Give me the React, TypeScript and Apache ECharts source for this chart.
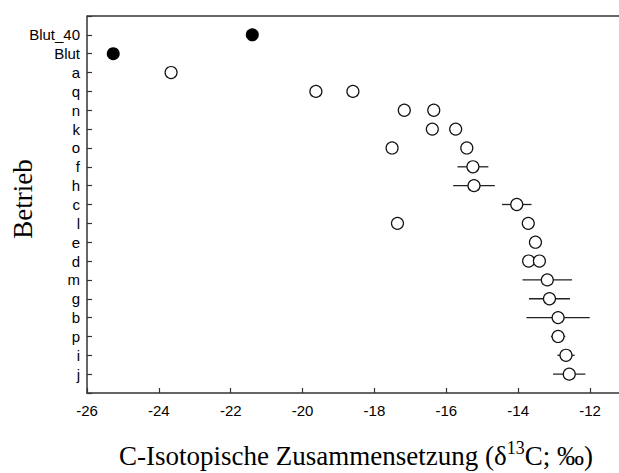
import React, { useEffect, useRef } from "react";
import * as echarts from "echarts";

// Categories from top to bottom
const categories = ["Blut_40", "Blut", "a", "q", "n", "k", "o", "f", "h", "c", "l", "e", "d", "m", "g", "b", "p", "i", "j"];

// Filled (blood) points
const bloodCats = ["Blut_40", "Blut"];
const bloodValues = [-21.4, -25.27];

// Open points (farm samples) with optional error (SD; 0 = none)
const pointCats = ["a", "q", "q", "n", "n", "k", "k", "o", "o", "f", "h", "c", "l", "l", "e", "d", "d", "m", "g", "b", "p", "i", "j"];
const pointValues = [-23.66, -19.63, -18.6, -17.17, -16.35, -16.39, -15.74, -17.51, -15.43, -15.26, -15.23, -14.04, -17.36, -13.72, -13.52, -13.71, -13.41, -13.19, -13.13, -12.89, -12.89, -12.67, -12.58];
const pointErrors = [0, 0, 0, 0, 0, 0, 0, 0, 0, 0.43, 0.58, 0.41, 0, 0, 0, 0, 0, 0.69, 0.57, 0.88, 0.2, 0.24, 0.45];

const xTitle = "C-Isotopische Zusammensetzung (δ{sup|13}C; ‰)";
const yTitle = "Betrieb";

const idx = (c: string) => categories.indexOf(c) + 1;

export default function App() {
  const ref = useRef<HTMLDivElement>(null);
  useEffect(() => {
    if (!ref.current) return;
    const chart = echarts.init(ref.current, null, { renderer: "svg" });
    const axisColor = "#333";
    const errData = pointValues
      .map((v, i) => [v - pointErrors[i], v + pointErrors[i], idx(pointCats[i]), pointErrors[i]])
      .filter((d) => d[3] > 0);
    chart.setOption({
      animation: false,
      grid: { left: 87, top: 16, right: 0, bottom: 80, show: false, containLabel: false, outerBoundsMode: "none" },
      xAxis: {
        type: "value",
        position: "bottom",
        min: -26,
        max: -11,
        interval: 2,
        axisLine: { show: true, onZero: false, lineStyle: { color: axisColor, width: 1.5 } },
        axisTick: { show: true, inside: true, length: 5, lineStyle: { color: axisColor, width: 1.2 } },
        axisLabel: {
          margin: 10,
          fontFamily: "Liberation Sans",
          fontSize: 15,
          color: "#000",
          formatter: (v: number) => (Math.abs(v - Math.round(v)) < 1e-6 && v <= -12 ? String(v) : ""),
        },
        splitLine: { show: false },
      },
      yAxis: {
        type: "value",
        min: 0,
        max: 20,
        interval: 1,
        inverse: true,
        axisLine: { show: true, onZero: false, lineStyle: { color: axisColor, width: 1.5 } },
        axisTick: { show: true, inside: true, length: 5, lineStyle: { color: axisColor, width: 1.2 } },
        axisLabel: {
          margin: 7,
          fontFamily: "Liberation Sans",
          fontSize: 15,
          color: "#000",
          formatter: (v: number) => categories[Math.round(v) - 1] ?? "",
        },
        splitLine: { show: false },
      },
      graphic: [
        {
          type: "line",
          shape: { x1: 87, y1: 16, x2: 626, y2: 16 },
          style: { stroke: axisColor, lineWidth: 1.5 },
        },
        {
          type: "text",
          x: 23,
          y: 199,
          rotation: Math.PI / 2,
          style: {
            text: yTitle,
            font: "27px 'Liberation Serif'",
            fill: "#000",
            align: "center",
            verticalAlign: "middle",
          },
        },
        {
          type: "text",
          x: 356,
          y: 456,
          style: {
            text: xTitle,
            fontFamily: "Liberation Serif",
            fontSize: 27,
            fill: "#000",
            align: "center",
            verticalAlign: "middle",
            rich: {
              sup: { fontFamily: "Liberation Serif", fontSize: 18, verticalAlign: "top", lineHeight: 34 },
            },
          },
        },
      ],
      series: [
        {
          type: "custom",
          z: 1,
          renderItem: (params: any, api: any) => {
            const p1 = api.coord([api.value(0), api.value(2)]);
            const p2 = api.coord([api.value(1), api.value(2)]);
            return {
              type: "line",
              shape: { x1: p1[0], y1: p1[1], x2: p2[0], y2: p2[1] },
              style: { stroke: "#222", lineWidth: 1.3 },
            };
          },
          data: errData,
        },
        {
          type: "scatter",
          z: 3,
          symbol: "circle",
          symbolSize: 12,
          itemStyle: { color: "#fff", borderColor: "#111", borderWidth: 1.2, opacity: 1 },
          data: pointValues.map((v, i) => [v, idx(pointCats[i])]),
        },
        {
          type: "scatter",
          z: 3,
          symbol: "circle",
          symbolSize: 13,
          itemStyle: { color: "#000", borderColor: "#000", borderWidth: 0, opacity: 1 },
          data: bloodValues.map((v, i) => [v, idx(bloodCats[i])]),
        },
      ],
    });
    return () => chart.dispose();
  }, []);
  return (
    <div style={{ position: "fixed", left: 0, top: 0, width: 619, height: 473, overflow: "hidden", background: "#fff" }}>
      <div ref={ref} style={{ position: "absolute", left: 0, top: 0, width: 626, height: 473 }} />
    </div>
  );
}
